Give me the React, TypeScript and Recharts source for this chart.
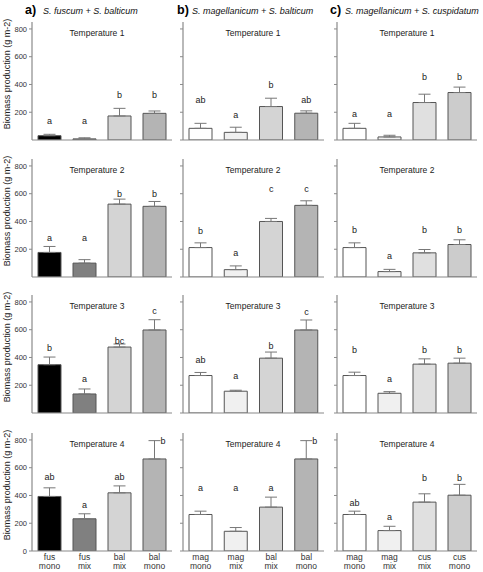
import React from 'react';
import { ComposedChart, Bar, Cell, ErrorBar, Scatter, XAxis, YAxis } from 'recharts';

const categoriesA = ['fus\nmono', 'fus\nmix', 'bal\nmix', 'bal\nmono'];
const categoriesB = ['mag\nmono', 'mag\nmix', 'bal\nmix', 'bal\nmono'];
const categoriesC = ['mag\nmono', 'mag\nmix', 'cus\nmix', 'cus\nmono'];
const temperatures = ['Temperature 1', 'Temperature 2', 'Temperature 3', 'Temperature 4'];
const yTicks = [0, 200, 400, 600, 800];

// Panel a) S. fuscum + S. balticum
const meansA = [[31, 8, 173, 192], [177, 100, 525, 509], [348, 137, 475, 598], [393, 232, 419, 663]];
const errorsA = [[10, 8, 55, 17], [43, 25, 36, 35], [55, 36, 22, 74], [62, 36, 50, 132]];
const lettersA = [['a', 'a', 'b', 'b'], ['a', 'a', 'b', 'b'], ['b', 'a', 'bc', 'c'], ['ab', 'a', 'ab', 'b']];
const letterPosA = [[139, 139, 327, 327], [279, 279, 601, 601], [468, 245, 521, 737], [532, 335, 532, 795]];

// Panel b) S. magellanicum + S. balticum
const meansB = [[84, 55, 241, 193], [212, 53, 400, 516], [270, 157, 395, 598], [263, 142, 316, 663]];
const errorsB = [[36, 37, 60, 17], [34, 27, 22, 33], [22, 7, 44, 72], [24, 27, 72, 132]];
const lettersB = [['ab', 'a', 'b', 'ab'], ['b', 'a', 'c', 'c'], ['ab', 'a', 'b', 'c'], ['a', 'a', 'a', 'b']];
const letterPosB = [[289, 181, 397, 289], [335, 171, 634, 634], [386, 265, 484, 728], [455, 455, 455, 795]];

// Panel c) S. magellanicum + S. cuspidatum
const meansC = [[84, 22, 270, 342], [212, 39, 174, 234], [270, 142, 352, 359], [263, 147, 352, 402]];
const errorsC = [[36, 12, 60, 39], [34, 16, 24, 34], [24, 12, 38, 36], [24, 31, 60, 78]];
const lettersC = [['a', 'a', 'b', 'b'], ['b', 'a', 'b', 'b'], ['b', 'a', 'b', 'b'], ['ab', 'a', 'b', 'b']];
const letterPosC = [[188, 188, 453, 453], [342, 154, 342, 342], [458, 243, 458, 458], [349, 248, 530, 530]];

const colorsA = ['#000000', '#808080', '#d4d4d4', '#b4b4b4'];
const colorsB = ['#ffffff', '#f0f0f0', '#d4d4d4', '#b4b4b4'];
const colorsC = ['#ffffff', '#f0f0f0', '#e0e0e0', '#cccccc'];

const FONT = '"Liberation Sans", Arial, Helvetica, sans-serif';
const AXIS = '#8a8a8a';

const panels = [
  { tag: 'a)', title: 'S. fuscum + S. balticum', categories: categoriesA, means: meansA, errors: errorsA, letters: lettersA, letterPos: letterPosA, colors: colorsA, left: 0, yw: 32, width: 180, mr: 8, tagX: 25, titleX: 43, tempX: 97, labels: true },
  { tag: 'b)', title: 'S. magellanicum + S. balticum', categories: categoriesB, means: meansB, errors: errorsB, letters: lettersB, letterPos: letterPosB, colors: colorsB, left: 170, yw: 13, width: 160, mr: 6, tagX: 177, titleX: 192, tempX: 253, labels: false },
  { tag: 'c)', title: 'S. magellanicum + S. cuspidatum', categories: categoriesC, means: meansC, errors: errorsC, letters: lettersC, letterPos: letterPosC, colors: colorsC, left: 323, yw: 14, width: 160, mr: 6, tagX: 330, titleX: 345, tempX: 407, labels: false },
];

const rowTops = [17, 154, 290, 428];
const PLOT_H = 118;
const M_TOP = 5;

const TwoLineTick = (props: any) => {
  const { x, y, payload } = props;
  const lines = String(payload.value).split('\n');
  return (
    <text x={x} y={y} textAnchor="middle" fontSize={8.5} fill="#333" fontFamily={FONT}>
      {lines.map((l, i) => (
        <tspan key={i} x={x} dy={i === 0 ? 8.5 : 9.5}>{l}</tspan>
      ))}
    </text>
  );
};

const LetterShape = (props: any) => {
  const { cx, cy, payload } = props;
  if (cx == null || cy == null) return null;
  const near = payload.letterPos - (payload.mean + payload.errRange[1]) < 20;
  return (
    <text x={cx + (near ? 8.5 : 0)} y={cy} dy="0.35em" textAnchor="middle" fontSize={9} fill="#222" fontFamily={FONT}>
      {payload.letter}
    </text>
  );
};

function Panel({ p, row }: { p: any; row: number }) {
  const last = row === 3;
  const data = p.categories.map((c: string, i: number) => ({
    cat: c,
    mean: p.means[row][i],
    errRange: [0, p.errors[row][i]],
    letter: p.letters[row][i],
    letterPos: p.letterPos[row][i],
  }));
  const xh = last ? 21 : 2;
  return (
    <div style={{ position: 'absolute', left: p.left, top: rowTops[row] }}>
      <ComposedChart width={p.width} height={M_TOP + PLOT_H + xh} data={data} margin={{ top: M_TOP, right: p.mr, bottom: 0, left: 0 }}>
        <XAxis
          dataKey="cat"
          height={xh}
          axisLine={{ stroke: AXIS, strokeWidth: 1.2 }}
          tickLine={false}
          tickSize={0}
          tickMargin={0}
          tick={last ? <TwoLineTick /> : false}
          interval={0}
        />
        <YAxis
          width={p.yw}
          domain={[0, 850]}
          ticks={yTicks}
          allowDataOverflow
          axisLine={{ stroke: AXIS, strokeWidth: 1.2 }}
          tickLine={{ stroke: AXIS }}
          tickSize={3}
          tickMargin={2}
          tick={{ fontSize: 7.5, fill: '#333', fontFamily: FONT }}
          tickFormatter={(v: number) => (p.labels ? String(v) : '')}
        />
        <Bar dataKey="mean" barSize={23} stroke="#555" strokeWidth={1} isAnimationActive={false}>
          {data.map((_: any, i: number) => (
            <Cell key={i} fill={p.colors[i]} />
          ))}
          <ErrorBar dataKey="errRange" direction="y" width={6} stroke="#777" strokeWidth={1} />
        </Bar>
        <Scatter dataKey="letterPos" shape={<LetterShape />} isAnimationActive={false} />
      </ComposedChart>
    </div>
  );
}

export default function App() {
  return (
    <div style={{ position: 'absolute', left: 0, top: 0, width: 483, height: 572, background: '#fff', fontFamily: FONT, overflow: 'hidden' }}>
      {panels.map((p, pi) =>
        [0, 1, 2, 3].map((r) => <Panel key={`${pi}-${r}`} p={p} row={r} />)
      )}
      <svg width={483} height={572} style={{ position: 'absolute', left: 0, top: 0, pointerEvents: 'none' }}>
        {panels.map((p, pi) => (
          <g key={pi}>
            <text x={p.tagX} y={14} fontSize={12.5} fontWeight="bold" fill="#000" fontFamily={FONT}>{p.tag}</text>
            <text x={p.titleX} y={13.5} fontSize={9} fontStyle="italic" fill="#111" fontFamily={FONT}>{p.title}</text>
            {temperatures.map((t, r) => (
              <text key={r} x={p.tempX} y={rowTops[r] + M_TOP + 14} textAnchor="middle" fontSize={8.5} fill="#222" fontFamily={FONT}>{t}</text>
            ))}
          </g>
        ))}
        {rowTops.map((t, r) => {
          const cy = t + M_TOP + PLOT_H - 66;
          return (
            <text key={r} x={10} y={cy} transform={`rotate(-90 10 ${cy})`} textAnchor="middle" fontSize={9} fill="#222" fontFamily={FONT}>
              Biomass production (g m-2)
            </text>
          );
        })}
      </svg>
    </div>
  );
}
